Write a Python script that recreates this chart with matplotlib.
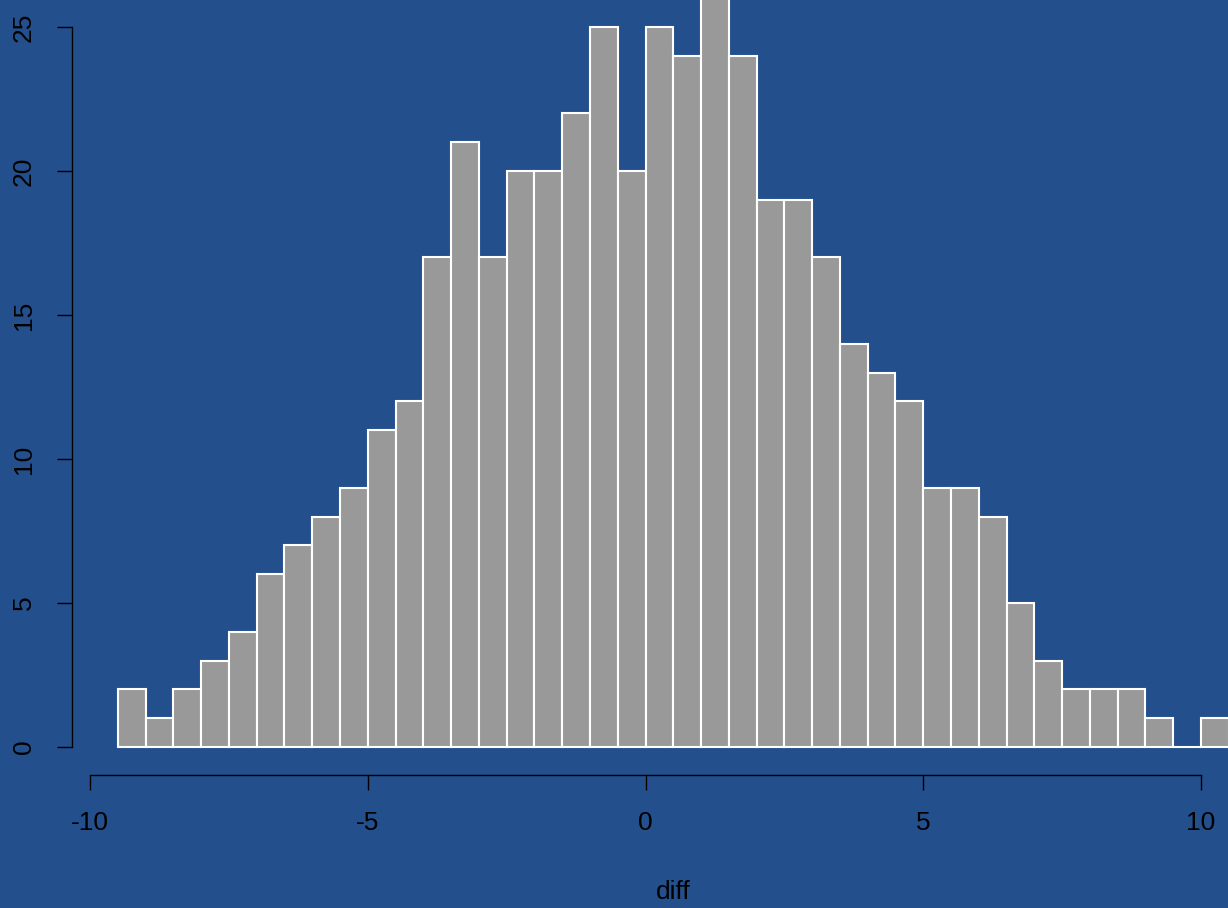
import numpy as np
import matplotlib.pyplot as plt

# histogram of diff, bin width 0.5 starting at -9.5
bin_left = np.arange(-9.5, 10.5, 0.5)
counts = [2, 1, 2, 3, 4, 6, 7, 8, 9, 11,
          12, 17, 21, 17, 20, 20, 22, 25, 20, 25,
          24, 26, 24, 19, 19, 17, 14, 13, 12, 9,
          9, 8, 5, 3, 2, 2, 2, 1, 0, 1]
xticks = [-10, -5, 0, 5, 10]
yticks = [0, 5, 10, 15, 20, 25]

bg = '#23508d'
plt.rcParams['font.family'] = ['Liberation Sans', 'DejaVu Sans']

fig = plt.figure(figsize=(12.28, 9.08), dpi=100, facecolor=bg)
ax = fig.add_axes([90/1228, (908-775)/908, (1228-90)/1228, 775/908])
ax.set_facecolor(bg)

ax.bar(bin_left, counts, width=0.5, align='edge', color='#999999',
       edgecolor='white', linewidth=1.5)

px_x = 1111/20.0   # pixels per unit x
px_y = 720/25.0    # pixels per unit y
ax.set_xlim(-10, -10 + 1138/px_x)
ax.set_ylim(-28/px_y, 747/px_y)

for s in ['top', 'right']:
    ax.spines[s].set_visible(False)
ax.spines['left'].set_position(('outward', 18*0.72))
ax.spines['left'].set_bounds(0, 25)
ax.spines['bottom'].set_bounds(-10, 10)
for s in ['left', 'bottom']:
    ax.spines[s].set_color('black')
    ax.spines[s].set_linewidth(1.0)

ax.set_xticks(xticks)
ax.set_yticks(yticks)
ax.set_xticklabels([str(v) for v in xticks])
ax.set_yticklabels([str(v) for v in yticks], rotation=90, va='center')
ax.tick_params(axis='both', length=11, width=1.0, color='black',
               labelsize=19, pad=15, labelcolor='black')

fig.text(673/1228, 1 - 892/908, 'diff', ha='center', va='center', fontsize=19)

fig.savefig('out.png', dpi=100, facecolor=bg)
